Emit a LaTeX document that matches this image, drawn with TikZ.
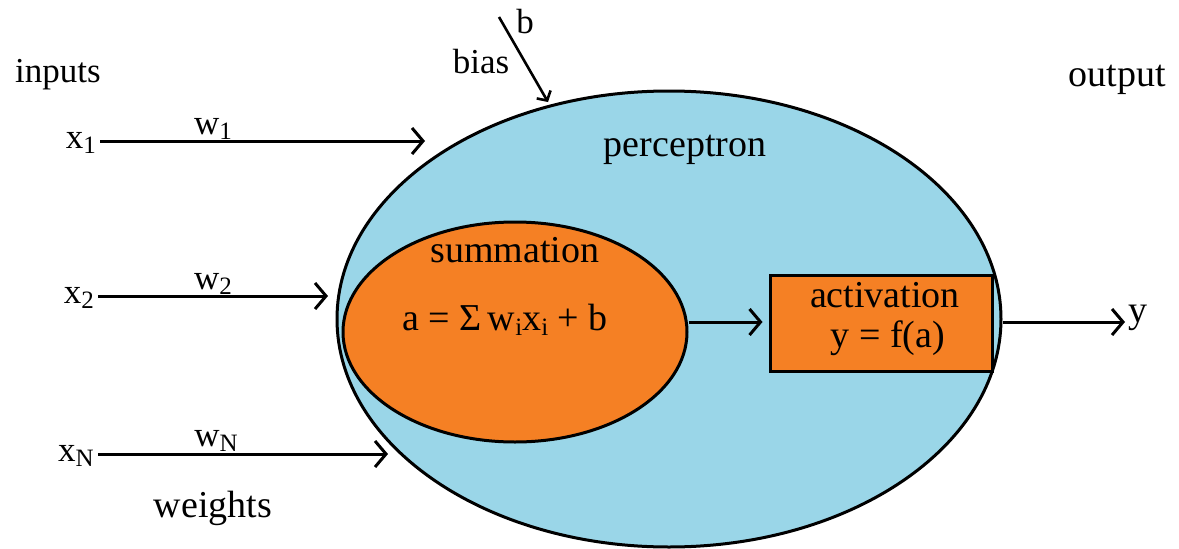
\documentclass[tikz,border=0pt]{standalone}
\usepackage{fontspec}
\newfontfamily\tnr{Liberation Serif}
\usetikzlibrary{shapes.geometric,arrows.meta}
\definecolor{pblue}{RGB}{154,214,232}
\definecolor{porange}{RGB}{245,128,36}
\newcommand{\sbs}[1]{\raisebox{-0.3ex}{\fontsize{25}{25}\selectfont #1}}
\tikzset{
  txt/.style={font=\tnr\fontsize{38}{40}\selectfont, inner sep=0pt},
  stxt/.style={font=\tnr\fontsize{35}{38}\selectfont, inner sep=0pt},
  conn/.style={line width=3pt, -{Straight Barb[length=11pt,width=26pt,line width=3pt]}},
  smallconn/.style={line width=2.6pt, -{Straight Barb[length=7pt,width=16pt,line width=2.6pt]}},
  outl/.style={draw=black, line width=3pt}
}
\begin{document}
\begin{tikzpicture}[x=1pt,y=-1pt]
\useasboundingbox[fill=white] (0,0) rectangle (1179,549);
% perceptron ellipse
\node[ellipse, outl, fill=pblue, minimum width=664pt, minimum height=456pt, inner sep=0pt] (perc) at (669,319) {};
\node[txt] (ptxt) at (685,150) {perceptron};
% summation
\node[ellipse, outl, fill=porange, minimum width=344pt, minimum height=220pt, inner sep=0pt] (sum) at (515,332) {};
\node[txt] (stitle) at (515,250) {summation};
\node[txt] (sform) at (505,320) {a = Σ\,w\sbs{i}x\sbs{i} + b};
% activation
\node[rectangle, outl, fill=porange, minimum width=222pt, minimum height=96pt, inner sep=0pt] (act) at (881,323) {};
\node[txt] (atitle) at (885,295) {activation};
\node[txt] (aform) at (888,338) {y = f(a)};
% labels
\node[stxt] (inputs) at (58,75) {inputs};
\node[txt] (output) at (1117,80) {output};
\node[txt] (weights) at (213,508) {weights};
\node[stxt, anchor=east] (x1) at (96,143) {x\sbs{1}};
\node[stxt, anchor=east] (x2) at (94,298) {x\sbs{2}};
\node[stxt, anchor=east] (xN) at (94,456) {x\sbs{N}};
\node[stxt] (w1) at (213,129) {w\sbs{1}};
\node[stxt] (w2) at (213,284) {w\sbs{2}};
\node[stxt] (wN) at (216,441) {w\sbs{N}};
\node[stxt] (bias) at (481,62) {bias};
\node[stxt] (b) at (525,22) {b};
\node[txt, anchor=west] (y) at (1128,318) {y};
% connector ends
\coordinate (e1) at (425,141);
\coordinate (e2) at (328,296);
\coordinate (eN) at (388,454);
\coordinate (bs) at (499,17);
\coordinate (bt) at (548,102);
% connectors
\draw[conn] (x1.east |- e1) ++(4,0) -- (e1);
\draw[conn] (x2.east |- e2) ++(4,0) -- (e2);
\draw[conn] (xN.east |- eN) ++(4,0) -- (eN);
\draw[smallconn] (bs) -- (bt);
\draw[conn, shorten >=6pt] (sum.east |- 0,322) -- (act.west |- 0,322);
\draw[conn, shorten >=3pt] (perc.east |- 0,322) -- (y.west |- 0,322);
\end{tikzpicture}
\end{document}
